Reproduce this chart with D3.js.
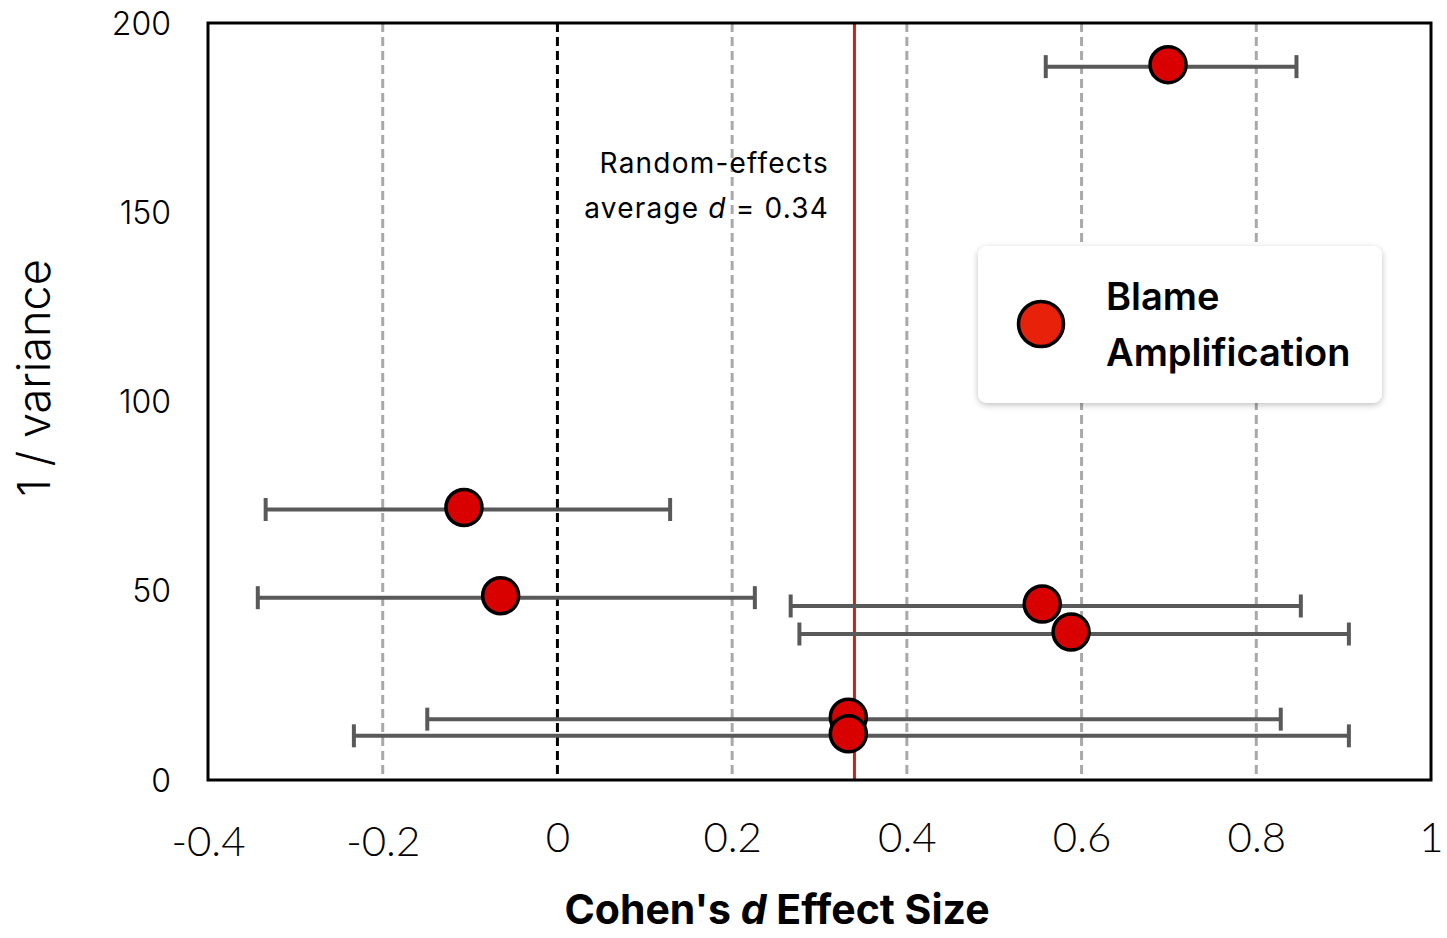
<!DOCTYPE html>
<html>
<head>
<meta charset="utf-8">
<script src="https://cdn.jsdelivr.net/npm/d3@7.9.0/dist/d3.min.js"></script>
<style>
  html, body { margin: 0; padding: 0; background: #fff; }
  svg { display: block; font-family: Inter, "Noto Sans", sans-serif; }
</style>
</head>
<body>
<svg id="chart" width="1447" height="938"></svg>
<script>
// effect sizes (Cohen's d) and precision (1 / variance)
const effectSizes = [0.699, -0.107, -0.065, 0.555, 0.588, 0.333, 0.333];
const precisions  = [189, 72, 48.7, 46.5, 39.1, 16.6, 12.2];
const ciLower     = [0.559, -0.334, -0.343, 0.267, 0.277, -0.149, -0.233];
const ciUpper     = [0.846, 0.129, 0.226, 0.851, 0.906, 0.828, 0.906];

const xTicks = [-0.4, -0.2, 0, 0.2, 0.4, 0.6, 0.8, 1];
const yTicks = [0, 50, 100, 150, 200];
const gridLines = [-0.2, 0.2, 0.4, 0.6, 0.8];
const averageD = 0.34;
const legendLabel = ["Blame", "Amplification"];

const studies = effectSizes.map((d, i) => ({
  d: d, prec: precisions[i], lo: ciLower[i], hi: ciUpper[i]
}));

const svg = d3.select("#chart");
const margin = { left: 208, right: 16, top: 23, bottom: 158 };
const width = 1447, height = 938;

const x = d3.scaleLinear().domain([-0.4, 1]).range([margin.left, width - margin.right]);
const y = d3.scaleLinear().domain([0, 200]).range([height - margin.bottom, margin.top]);

// dashed grey reference lines
svg.append("g")
  .selectAll("line")
  .data(gridLines)
  .enter()
  .append("line")
  .attr("x1", d => x(d)).attr("x2", d => x(d))
  .attr("y1", y(200)).attr("y2", y(0))
  .attr("stroke", "#a9a9a9")
  .attr("stroke-width", 3)
  .attr("stroke-dasharray", "9,5");

// zero line
svg.append("line")
  .attr("x1", x(0)).attr("x2", x(0))
  .attr("y1", y(200)).attr("y2", y(0))
  .attr("stroke", "#000")
  .attr("stroke-width", 3)
  .attr("stroke-dasharray", "9,5");

// random-effects average
svg.append("line")
  .attr("x1", x(averageD)).attr("x2", x(averageD))
  .attr("y1", y(200)).attr("y2", y(0))
  .attr("stroke", "#cc2214")
  .attr("stroke-width", 3);

const note = svg.append("text")
  .attr("text-anchor", "end")
  .attr("font-size", 28)
  .attr("letter-spacing", 1.2)
  .attr("fill", "#000");
note.append("tspan").attr("x", 829).attr("y", 173).text("Random-effects");
const line2 = note.append("tspan").attr("x", 829).attr("y", 218);
line2.append("tspan").text("average ");
line2.append("tspan").attr("font-style", "italic").text("d");
line2.append("tspan").text(" = " + averageD.toFixed(2));

// error bars
const bars = svg.append("g").attr("stroke", "#595959");
bars.selectAll("line.ci")
  .data(studies)
  .enter()
  .append("line")
  .attr("class", "ci")
  .attr("x1", d => x(d.lo)).attr("x2", d => x(d.hi))
  .attr("y1", d => y(d.prec) + 2).attr("y2", d => y(d.prec) + 2)
  .attr("stroke-width", 4);

["lo", "hi"].forEach(k => {
  bars.selectAll("line.cap-" + k)
    .data(studies)
    .enter()
    .append("line")
    .attr("class", "cap-" + k)
    .attr("x1", d => x(d[k])).attr("x2", d => x(d[k]))
    .attr("y1", d => y(d.prec) + 2 - 11.5).attr("y2", d => y(d.prec) + 2 + 11.5)
    .attr("stroke-width", 4);
});

// study points
svg.append("g")
  .selectAll("circle")
  .data(studies)
  .enter()
  .append("circle")
  .attr("cx", d => x(d.d))
  .attr("cy", d => y(d.prec))
  .attr("r", 18)
  .attr("fill", "#d90000")
  .attr("stroke", "#000")
  .attr("stroke-width", 3.5);

// frame
svg.append("rect")
  .attr("x", margin.left).attr("y", margin.top)
  .attr("width", width - margin.left - margin.right)
  .attr("height", height - margin.top - margin.bottom)
  .attr("fill", "none")
  .attr("stroke", "#000")
  .attr("stroke-width", 3);

// axes
const xAxis = svg.append("g")
  .attr("transform", `translate(0,${y(0)})`)
  .call(d3.axisBottom(x).tickValues(xTicks).tickSize(0).tickPadding(0)
    .tickFormat(d => d === 0 ? "0" : String(d)));
xAxis.select(".domain").remove();
xAxis.selectAll("text")
  .attr("dy", null)
  .attr("y", d => d < 0 ? 76 : 72)
  .attr("font-size", 42)
  .attr("font-weight", 300)
  .attr("font-family", "Lato, 'Noto Sans', sans-serif")
  .attr("fill", "#000");

const yAxis = svg.append("g")
  .attr("transform", `translate(${margin.left},0)`)
  .call(d3.axisLeft(y).tickValues(yTicks).tickSize(0).tickPadding(0));
yAxis.select(".domain").remove();
yAxis.selectAll("text")
  .attr("x", -37)
  .attr("dy", "0.35em")
  .attr("font-size", 32)
  .attr("font-weight", 300)
  .attr("font-family", "Inter, 'Noto Sans', sans-serif")
  .attr("fill", "#000");

// axis titles
svg.append("text")
  .attr("transform", "translate(50,378) rotate(-90)")
  .attr("text-anchor", "middle")
  .attr("font-size", 45)
  .attr("font-weight", 300)
  .text("1 / variance");

const xTitle = svg.append("text")
  .attr("x", 777).attr("y", 924)
  .attr("text-anchor", "middle")
  .attr("font-size", 41)
  .attr("font-weight", 700);
xTitle.append("tspan").text("Cohen's ");
xTitle.append("tspan").attr("font-style", "italic").text("d");
xTitle.append("tspan").text(" Effect Size");

// legend
const defs = svg.append("defs");
const shadow = defs.append("filter").attr("id", "shadow")
  .attr("x", "-10%").attr("y", "-10%").attr("width", "120%").attr("height", "130%");
shadow.append("feDropShadow")
  .attr("dx", 0).attr("dy", 2).attr("stdDeviation", 3)
  .attr("flood-color", "#000").attr("flood-opacity", 0.25);

const legend = svg.append("g").attr("transform", "translate(978,246)");
legend.append("rect")
  .attr("width", 404).attr("height", 157)
  .attr("rx", 9)
  .attr("fill", "#fff")
  .attr("filter", "url(#shadow)");
legend.append("circle")
  .attr("cx", 63).attr("cy", 78).attr("r", 22.5)
  .attr("fill", "#e8210a")
  .attr("stroke", "#000")
  .attr("stroke-width", 3.5);
legend.selectAll("text.lab")
  .data(legendLabel)
  .enter()
  .append("text")
  .attr("class", "lab")
  .attr("x", 128)
  .attr("y", (d, i) => 64 + i * 56)
  .attr("font-size", 38)
  .attr("font-weight", 600)
  .text(d => d);
</script>
</body>
</html>
